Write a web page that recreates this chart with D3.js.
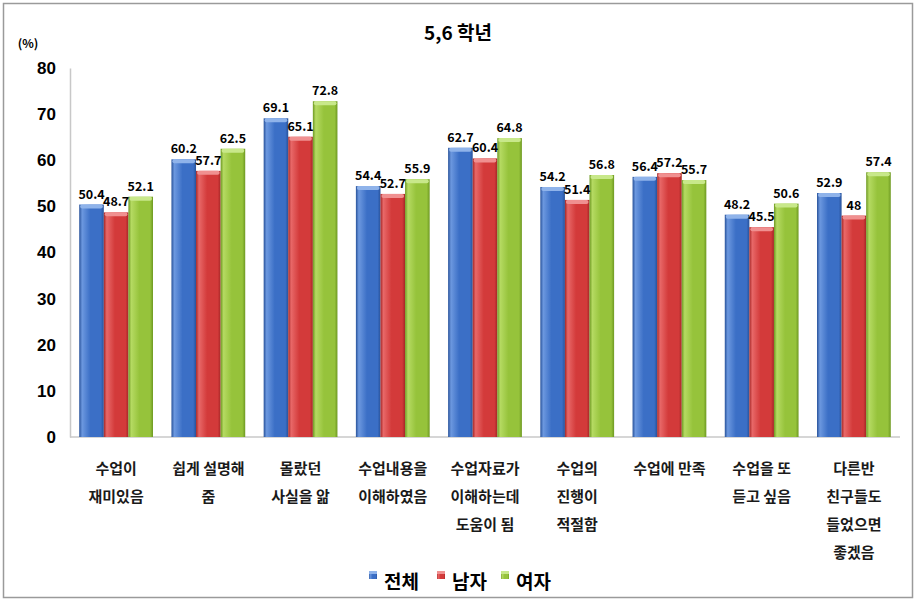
<!DOCTYPE html>
<html><head><meta charset="utf-8">
<script src="https://cdn.jsdelivr.net/npm/d3@7"></script>
<style>body{margin:0;background:#fff}svg{display:block}text{font-family:"Noto Sans CJK KR","Noto Sans",sans-serif}</style>
</head><body>
<svg id="c" width="917" height="602"></svg>
<script>
const categories = [
  ["수업이","재미있음"],
  ["쉽게 설명해","줌"],
  ["몰랐던","사실을 앎"],
  ["수업내용을","이해하였음"],
  ["수업자료가","이해하는데","도움이 됨"],
  ["수업의","진행이","적절함"],
  ["수업에 만족"],
  ["수업을 또","듣고 싶음"],
  ["다른반","친구들도","들었으면","좋겠음"]
];
const seriesNames = ["전체","남자","여자"];
const total = [50.4,60.2,69.1,54.4,62.7,54.2,56.4,48.2,52.9];
const male  = [48.7,57.7,65.1,52.7,60.4,51.4,57.2,45.5,48];
const female= [52.1,62.5,72.8,55.9,64.8,56.8,55.7,50.6,57.4];
const yTicks = [0,10,20,30,40,50,60,70,80];
const title = "5,6 학년";
const unit = "(%)";

(function(){
const series = [total, male, female];
const colors = [
  {mid:"#3b6fc6", light:"#6c98df", dark:"#28529a", cap:"#8fb3ea"},
  {mid:"#d33a3a", light:"#e86868", dark:"#a52626", cap:"#f09090"},
  {mid:"#96c33b", light:"#b5da62", dark:"#6e9922", cap:"#c8e88a"}
];

const svg = d3.select("#c");
const defs = svg.append("defs");
colors.forEach((c,i)=>{
  const g = defs.append("linearGradient").attr("id","g"+i).attr("x1","0").attr("x2","1").attr("y1","0").attr("y2","0");
  g.append("stop").attr("offset","0%").attr("stop-color",c.dark);
  g.append("stop").attr("offset","12%").attr("stop-color",c.light);
  g.append("stop").attr("offset","45%").attr("stop-color",c.mid);
  g.append("stop").attr("offset","88%").attr("stop-color",c.mid);
  g.append("stop").attr("offset","100%").attr("stop-color",c.dark);
});

svg.append("rect").attr("x",3.5).attr("y",3.5).attr("width",909).attr("height",594)
  .attr("fill","#fff").attr("stroke","#9a9a9a").attr("stroke-width",1.5);

const pl = 70, pr = 900, pt = 68, pb = 437;
const y = d3.scaleLinear().domain([0,80]).range([pb, pt]);
const x0 = d3.scaleBand().domain(d3.range(categories.length)).range([pl,pr]).paddingInner(0.2).paddingOuter(0.1);
const x1 = d3.scaleBand().domain(d3.range(3)).range([0,x0.bandwidth()]);

const yAxis = d3.axisLeft(y).tickValues(yTicks).tickSize(0).tickPadding(14);
const ga = svg.append("g").attr("transform",`translate(${pl},0)`).call(yAxis);
ga.select(".domain").attr("stroke","#c8c8c8").attr("stroke-width",1.5);
ga.selectAll("text").attr("font-size",17).attr("font-weight","bold").attr("fill","#000")
  .style("font-family","'Liberation Sans',Arial,sans-serif");

svg.append("line").attr("x1",pl).attr("x2",pr).attr("y1",pb).attr("y2",pb)
  .attr("stroke","#c8c8c8").attr("stroke-width",1.5);

categories.forEach((cat,i)=>{
  const g = svg.append("g").attr("transform",`translate(${x0(i)},0)`);
  series.forEach((s,j)=>{
    const bx = x1(j), bw = x1.bandwidth(), by = y(s[i]), bh = pb - y(s[i]);
    g.append("rect").attr("x",bx).attr("y",by).attr("width",bw).attr("height",bh)
      .attr("fill",`url(#g${j})`);
    g.append("rect").attr("x",bx+1).attr("y",by).attr("width",bw-2).attr("height",4)
      .attr("fill",colors[j].cap).attr("rx",2);
  });
  series.forEach((s,j)=>{
    g.append("text").attr("x",x1(j)+x1.bandwidth()/2).attr("y",y(s[i])-6)
      .attr("text-anchor","middle").attr("font-size",12.5).attr("font-weight","bold").attr("fill","#000")
      .text(s[i]);
  });
  const lab = svg.append("text").attr("text-anchor","middle").attr("font-size",15)
    .attr("font-weight","bold").attr("fill","#1a1a1a");
  cat.forEach((line,k)=>{
    lab.append("tspan").attr("x",x0(i)+x0.bandwidth()/2).attr("y",474+k*28).text(line);
  });
});

svg.append("text").attr("x",458).attr("y",40).attr("text-anchor","middle")
  .attr("font-size",19).attr("font-weight","bold").text(title);
svg.append("text").attr("x",28).attr("y",48).attr("text-anchor","middle")
  .attr("font-size",12).attr("font-weight","bold").text(unit);

const legX = [369,437,501];
seriesNames.forEach((n,j)=>{
  const lg = svg.append("g").attr("transform",`translate(${legX[j]},0)`);
  lg.append("rect").attr("x",0).attr("y",571).attr("width",8).attr("height",8).attr("fill",`url(#g${j})`);
  lg.append("rect").attr("x",0).attr("y",571).attr("width",8).attr("height",3).attr("fill",colors[j].cap);
  lg.append("text").attr("x",15).attr("y",589).attr("font-size",19).attr("font-weight","bold").text(n);
});
})();
</script>
</body></html>
